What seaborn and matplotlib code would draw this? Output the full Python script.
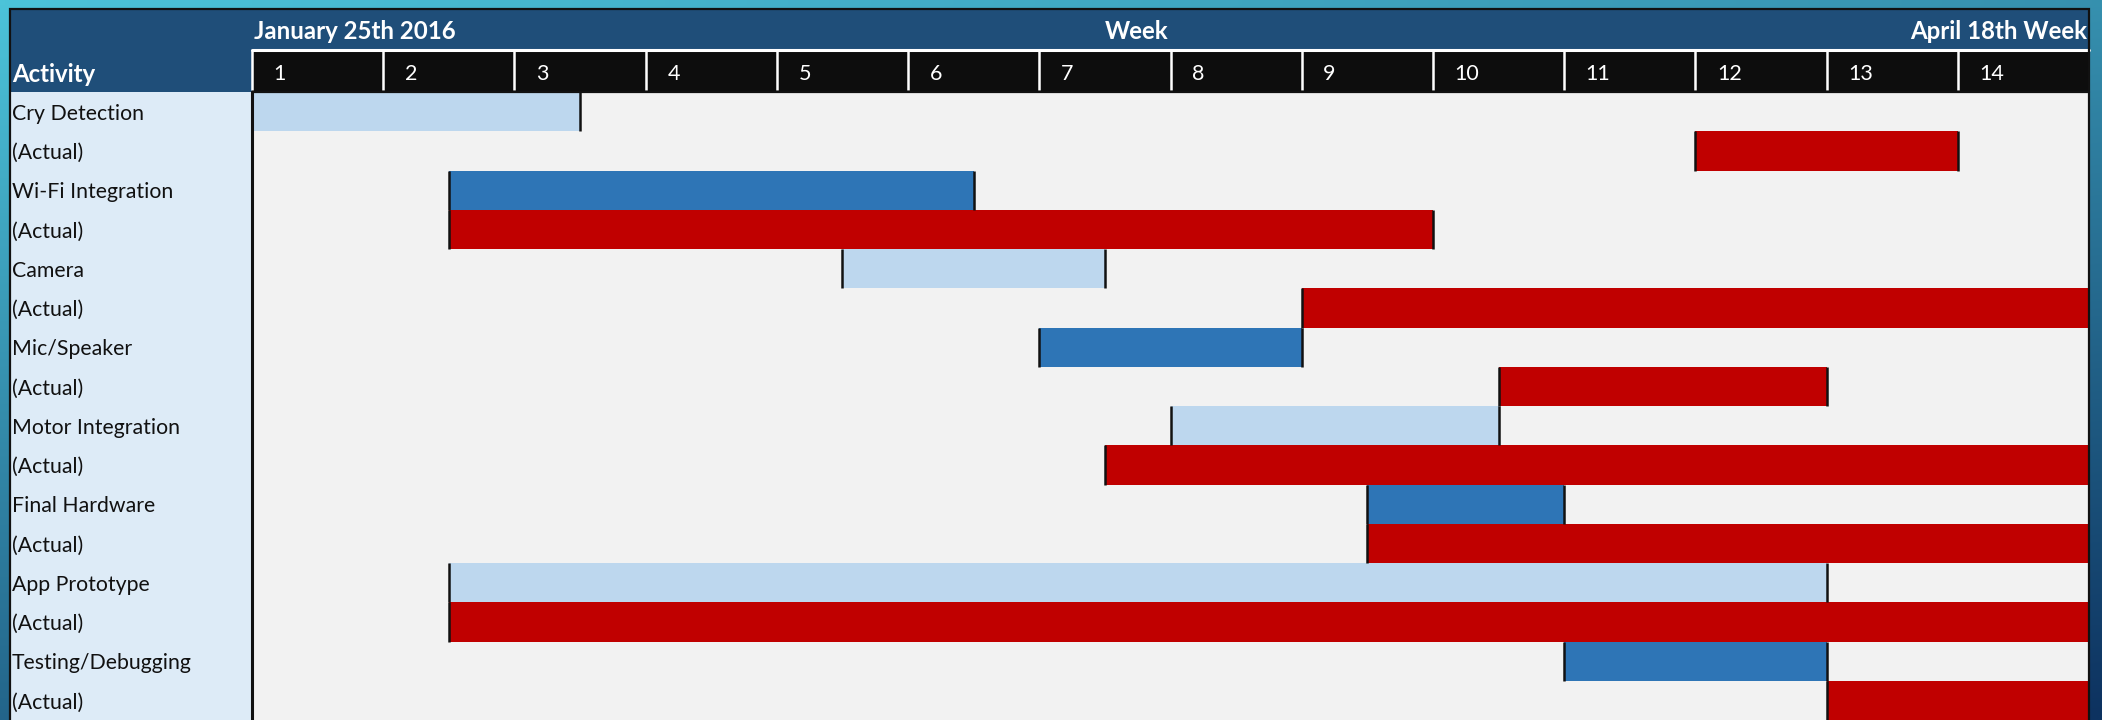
import matplotlib
matplotlib.use("Agg")
import matplotlib.pyplot as plt
from matplotlib.colors import ListedColormap, to_rgb
from matplotlib.patches import Rectangle
import seaborn as sns
import numpy as np
import pandas as pd

# Gantt data (in weeks, 0 = start of week 1)
activities = ["Cry Detection", "Wi-Fi Integration", "Camera", "Mic/Speaker",
              "Motor Integration", "Final Hardware", "App Prototype", "Testing/Debugging"]
plan_start = [0, 1.5, 4.5, 6, 7, 8.5, 1.5, 10]
plan_end = [2.5, 5.5, 6.5, 8, 9.5, 10, 12, 12]
actual_start = [11, 1.5, 8, 9.5, 6.5, 8.5, 1.5, 12]
actual_end = [13, 9, 14, 12, 14, 14, 14, 14]
weeks = list(range(1, 15))
date_start = "January 25th 2016"
date_end = "April 18th Week"

# colours
C_BG = "#F2F2F2"
C_LIGHT = "#BDD7EE"
C_DARK = "#2E75B6"
C_RED = "#C00000"
C_HEAD = "#1F4E79"
C_WEEKROW = "#0D0D0D"
C_LABELS = "#DDEBF7"

sns.set_style("white")
plt.rcParams["font.family"] = ["Lato", "DejaVu Sans"]

# build the cell grid, half-week resolution
HALF = 2
n_cols = len(weeks) * HALF
grid = np.zeros((2 * len(activities), n_cols))
row_labels = []
for i, act in enumerate(activities):
    shade = 1 if i % 2 == 0 else 2
    grid[2 * i, int(plan_start[i] * HALF):int(plan_end[i] * HALF)] = shade
    grid[2 * i + 1, int(actual_start[i] * HALF):int(actual_end[i] * HALF)] = 3
    row_labels += [act, "(Actual)"]
df = pd.DataFrame(grid, index=row_labels)

W, H = 2102, 720
L, T, R, B = 10, 9, 2089, 720
SPLIT, HEAD1, HEAD2 = 252, 50, 92

fig = plt.figure(figsize=(W / 100, H / 100), dpi=100)


def px_axes(x0, y0, x1, y1):
    return fig.add_axes([x0 / W, 1 - y1 / H, (x1 - x0) / W, (y1 - y0) / H])


# gradient backdrop
ax_bg = fig.add_axes([0, 0, 1, 1])
gx, gy = np.meshgrid(np.linspace(0, 1, 210), np.linspace(0, 1, 72))
t = (0.35 * gx + 0.65 * gy)[..., None]
c0, c1 = np.array(to_rgb("#4CC3D9")), np.array(to_rgb("#0D3260"))
ax_bg.imshow((1 - t) * c0 + t * c1, aspect="auto", extent=[0, 1, 0, 1],
             origin="upper", interpolation="bilinear")
ax_bg.set_axis_off()

# header block
ax_h = px_axes(L, T, R, HEAD2)
ax_h.set_facecolor(C_HEAD)
ax_h.set_xlim(L, R)
ax_h.set_ylim(HEAD2, T)
ax_h.set_xticks([])
ax_h.set_yticks([])
for s in ax_h.spines.values():
    s.set_visible(False)
hfont = dict(color="white", fontsize=17.3, fontweight="bold", va="baseline")
ax_h.text(SPLIT + 2, 39, date_start, ha="left", **hfont)
ax_h.text(1137, 39, "Week", ha="center", **hfont)
ax_h.text(R - 2, 39, date_end, ha="right", **hfont)
ax_h.text(L + 2, 82, "Activity", ha="left", **hfont)

# week number row
ax_w = px_axes(SPLIT, HEAD1, R, HEAD2)
ax_w.set_facecolor(C_WEEKROW)
ax_w.set_xlim(0, n_cols)
ax_w.set_ylim(0, 1)
ax_w.set_xticks([])
ax_w.set_yticks([])
for s in ax_w.spines.values():
    s.set_visible(False)
ax_w.axhline(1, color="white", lw=2.2, clip_on=False)
for k, w in enumerate(weeks):
    x = k * HALF
    ax_w.vlines(x, 0.05, 1, color="white", lw=1.8, clip_on=False)
    ax_w.text(x + 0.33, 0.286, str(w), color="white", fontsize=15.5,
              ha="left", va="baseline")

# activity label column
ax_l = px_axes(L, HEAD2, SPLIT, B)
ax_l.set_facecolor(C_LABELS)
ax_l.set_xlim(0, 1)
ax_l.set_ylim(len(row_labels), 0)
ax_l.set_xticks([])
ax_l.set_yticks([])
for s in ax_l.spines.values():
    s.set_visible(False)
for r, lab in enumerate(row_labels):
    ax_l.text(2 / (SPLIT - L), r + 0.71, lab, color="#111111", fontsize=15.3,
              ha="left", va="baseline")

# gantt cells
ax = px_axes(SPLIT, HEAD2, R, B)
cmap = ListedColormap([C_BG, C_LIGHT, C_DARK, C_RED])
sns.heatmap(df, ax=ax, cmap=cmap, vmin=-0.5, vmax=3.5, cbar=False,
            xticklabels=False, yticklabels=False, linewidths=0)
ax.set_xlabel("")
ax.set_ylabel("")

# black edge markers at bar starts and ends
for i in range(len(activities)):
    for row, (s, e) in ((2 * i, (plan_start[i], plan_end[i])),
                        (2 * i + 1, (actual_start[i], actual_end[i]))):
        for edge in (s, e):
            if 0 < edge < len(weeks):
                ax.vlines(edge * HALF, row, row + 1, color="#111111", lw=1.8)

ax.axvline(0, color="#111111", lw=2.2, clip_on=False)
ax.axhline(0, color="#111111", lw=1.6, clip_on=False)

# frame outline
fig.add_artist(Rectangle((L / W, -0.05), (R - L) / W, 1.05 - T / H,
                         transform=fig.transFigure, fill=False,
                         edgecolor="#111111", lw=1.6, zorder=10))

fig.savefig("out.png", dpi=100)
